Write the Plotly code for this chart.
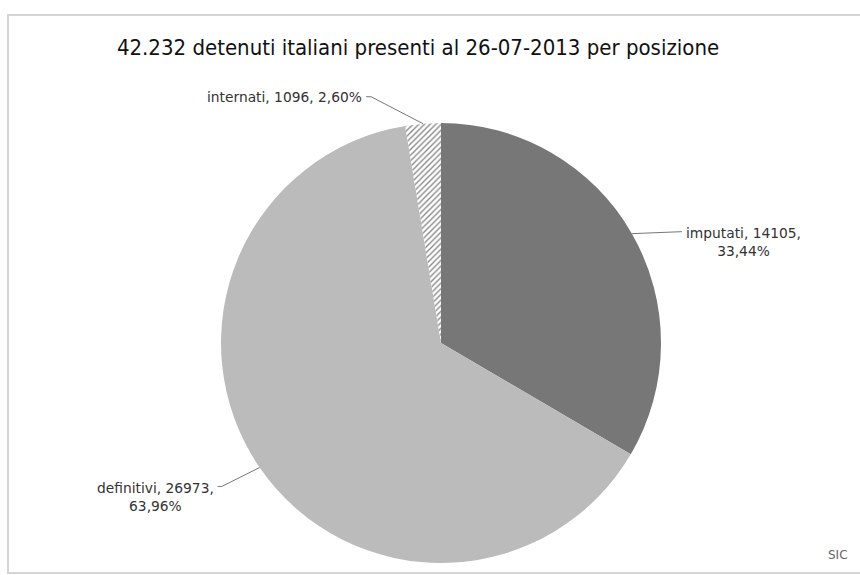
import math
import plotly.graph_objects as go

# Detenuti italiani presenti al 26-07-2013, per posizione giuridica
categorie = ["imputati", "definitivi", "internati"]
detenuti = [14105, 26973, 1096]
colori = ["#777777", "#bbbbbb", "#ffffff"]
motivi = ["", "", "/"]
titolo = "42.232 detenuti italiani presenti al 26-07-2013 per posizione"

W, H = 860, 575
CX, CY, R = 441, 343, 220  # pie centre and radius in pixels

totale = sum(detenuti)


def px_x(x):
    return x / W


def px_y(y):
    return (H - y) / H


def it_num(v, dec):
    return f"{v:.{dec}f}".replace(".", ",")


fig = go.Figure(
    go.Pie(
        labels=categorie,
        values=detenuti,
        sort=False,
        direction="clockwise",
        rotation=0,
        textinfo="none",
        hoverinfo="label+value+percent",
        showlegend=False,
        marker=dict(
            colors=colori,
            line=dict(width=0),
            pattern=dict(shape=motivi, fgcolor="#8a8a8a", bgcolor="#ffffff",
                         size=4, solidity=0.35),
        ),
        domain=dict(x=[px_x(CX - R), px_x(CX + R)], y=[px_y(CY + R), px_y(CY - R)]),
    )
)

# leader-line direction / label placement for each slice
leader = {
    "imputati": dict(dx=50, dy=-2, tail=0, side="left", two_lines=True),
    "definitivi": dict(dx=-38, dy=19, tail=4, side="right", two_lines=True),
    "internati": dict(dx=-52, dy=-27, tail=5, side="right", two_lines=False),
}

FONT_LBL = dict(family="DejaVu Sans", size=13.8, color="#333333")

shapes = [
    dict(type="rect", xref="paper", yref="paper",
         x0=px_x(8), x1=px_x(866), y0=px_y(573), y1=px_y(15),
         line=dict(color="#d4d4d4", width=2), fillcolor="rgba(0,0,0,0)", layer="below"),
]
annotations = []

cum = 0
for nome, v in zip(categorie, detenuti):
    frac = v / totale
    mid = (cum + frac / 2) * 2 * math.pi
    cum += frac
    ex = CX + R * math.sin(mid)
    ey = CY - R * math.cos(mid)
    L = leader[nome]
    lx, ly = ex + L["dx"], ey + L["dy"]
    sgn = 1 if L["side"] == "left" else -1
    tx = lx + sgn * L["tail"]
    line_col = "#777777"
    shapes.append(dict(type="line", xref="paper", yref="paper",
                       x0=px_x(ex), y0=px_y(ey), x1=px_x(lx), y1=px_y(ly),
                       line=dict(color=line_col, width=1)))
    if L["tail"]:
        shapes.append(dict(type="line", xref="paper", yref="paper",
                           x0=px_x(lx), y0=px_y(ly), x1=px_x(tx), y1=px_y(ly),
                           line=dict(color=line_col, width=1)))
    pct = it_num(100 * frac, 2) + "%"
    if L["two_lines"]:
        testo = f"{nome}, {v},<br>{pct}"
        annotations.append(dict(
            x=px_x(tx + sgn * 2), y=px_y(ly - 9), xref="paper", yref="paper",
            xanchor=L["side"], yanchor="top", align="center", showarrow=False,
            text=testo, font=FONT_LBL,
        ))
    else:
        testo = f"{nome}, {v}, {pct}"
        annotations.append(dict(
            x=px_x(tx + sgn * 2), y=px_y(ly), xref="paper", yref="paper",
            xanchor=L["side"], yanchor="middle", showarrow=False,
            text=testo, font=FONT_LBL,
        ))

annotations.append(dict(
    x=px_x(850), y=px_y(555), xref="paper", yref="paper", xanchor="right",
    yanchor="middle", showarrow=False, text="SIC",
    font=dict(family="DejaVu Sans", size=12, color="#666666"),
))

fig.update_layout(
    width=W, height=H,
    margin=dict(l=0, r=0, t=0, b=0),
    paper_bgcolor="#ffffff",
    title=dict(text=titolo, x=px_x(418), xanchor="center",
               y=px_y(47), yanchor="middle",
               font=dict(family="DejaVu Sans Condensed", size=22, color="#111111")),
    shapes=shapes,
    annotations=annotations,
)

fig.write_html("out.html")
